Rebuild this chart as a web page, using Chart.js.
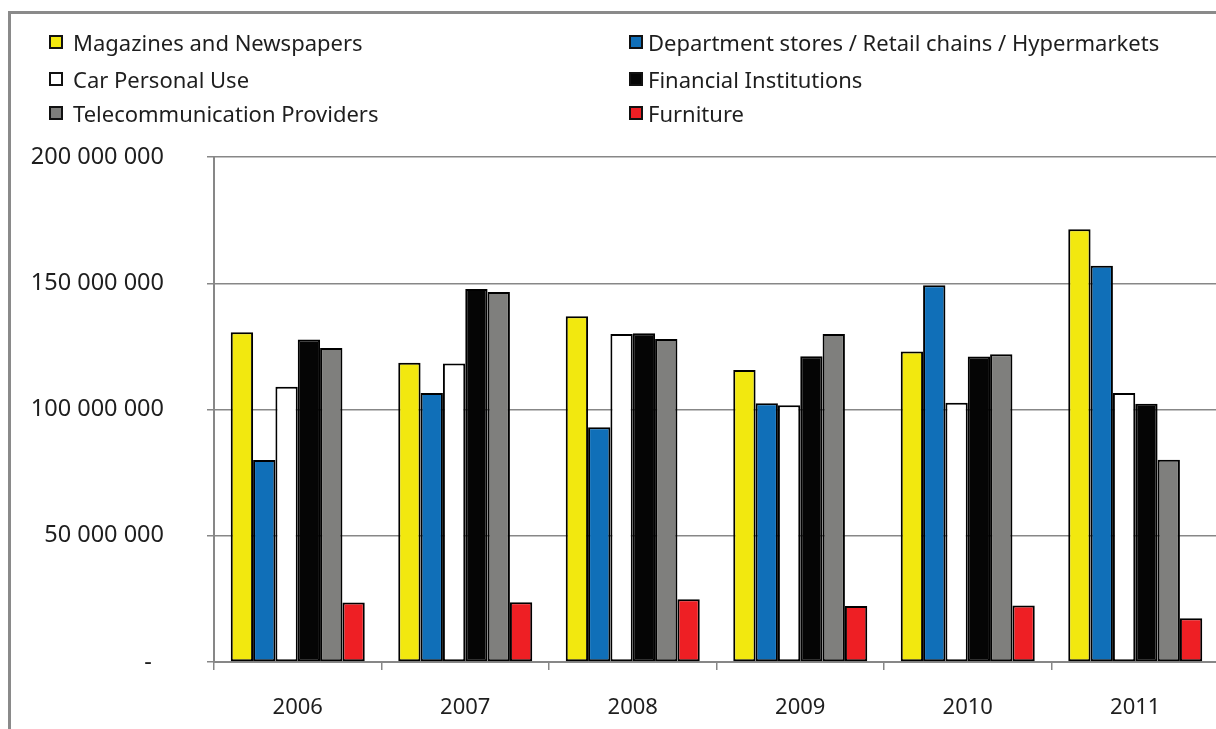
<!DOCTYPE html>
<html>
<head>
<meta charset="utf-8">
<script src="https://cdn.jsdelivr.net/npm/chart.js@4/dist/chart.umd.min.js"></script>
<style>
	html, body { margin: 0; padding: 0; background: #fff; overflow: hidden; width: 1216px; height: 729px; }
	#frame { position: absolute; left: 8px; top: 11px; width: 1300px; height: 800px; border: 3px solid #8a8a8a; }
	#myChart { position: absolute; left: 0; top: 0; }
	.leg { position: absolute; font: 22px "Noto Sans", sans-serif; color: #1e1e1e; white-space: nowrap; line-height: 1; }
	.leg i { position: absolute; left: 0; top: 50%; width: 10px; height: 10px; margin-top: -7px; border: 2px solid #111; }
	.leg span { position: absolute; top: 50%; transform: translateY(-52%); }
</style>
</head>
<body>
<div id="frame"></div>
<canvas id="myChart" width="1230" height="729"></canvas>
<div id="legend"></div>
<script>
const years = ['2006', '2007', '2008', '2009', '2010', '2011'];

const magazines = [130600000, 118500000, 136900000, 115600000, 123000000, 171400000];
const deptStores = [80000000, 106500000, 93000000, 102500000, 149200000, 156900000];
const carUse = [109000000, 118200000, 129900000, 101700000, 102700000, 106500000];
const financial = [127700000, 147700000, 130200000, 121100000, 121000000, 102300000];
const telecom = [124400000, 146500000, 127900000, 129900000, 121900000, 80100000];
const furniture = [23600000, 23700000, 24900000, 22200000, 22400000, 17300000];

const seriesNames = [
	'Magazines and Newspapers',
	'Department stores / Retail chains / Hypermarkets',
	'Car Personal Use',
	'Financial Institutions',
	'Telecommunication Providers',
	'Furniture'
];
const seriesData = [magazines, deptStores, carUse, financial, telecom, furniture];
const COLORS = ['#f2e80f', '#106fb8', '#ffffff', '#050505', '#7f7f7d', '#ee1f24'];

const yTicks = [0, 50000000, 100000000, 150000000, 200000000];

const FONT_X = {family: '"Noto Sans", sans-serif', size: 22};
const FONT_Y = {family: '"Noto Sans", sans-serif', size: 23.5};

// legend: two columns, row-major order
const legend = document.getElementById('legend');
const colX = [49, 629];
const rowY = [42, 78.5, 113];
seriesNames.forEach((name, i) => {
	const d = document.createElement('div');
	d.className = 'leg';
	d.style.left = colX[i % 2] + 'px';
	d.style.top = rowY[Math.floor(i / 2)] + 'px';
	d.innerHTML = '<i style="background:' + COLORS[i] + '"></i><span style="left:' + (i % 2 ? 19 : 24) + 'px">' + name + '</span>';
	legend.appendChild(d);
});

function fmt(v) {
	if (v === 0) return '-  ';
	return String(v).replace(/\B(?=(\d{3})+(?!\d))/g, ' ');
}

const ctx = document.getElementById('myChart');

const data = {
	labels: years,
	datasets: seriesNames.map((name, i) => ({
		label: name,
		data: seriesData[i],
		backgroundColor: COLORS[i],
		borderColor: '#000',
		borderWidth: 2,
		borderSkipped: false,
		categoryPercentage: 0.8,
		barPercentage: 1.0
	}))
};

new Chart(ctx, {
	type: 'bar',
	data,
	options: {
		responsive: false,
		animation: false,
		layout: { padding: { left: 0, top: 157, right: 11, bottom: 0 } },
		plugins: {
			legend: { display: false },
			tooltip: { enabled: false }
		},
		scales: {
			x: {
				offset: true,
				grid: { drawOnChartArea: false, drawTicks: true, tickLength: 8, color: '#878787', lineWidth: 1.5 },
				border: { color: '#878787', width: 2 },
				ticks: { font: FONT_X, color: '#1e1e1e', padding: 25 },
				afterFit(scale) { scale.height = 67; }
			},
			y: {
				min: 0,
				max: 200000000,
				afterBuildTicks(scale) { scale.ticks = yTicks.map(v => ({value: v})); },
				grid: { color: '#878787', lineWidth: 1.5, tickLength: 7 },
				border: { color: '#878787', width: 2 },
				ticks: { font: FONT_Y, color: '#1e1e1e', padding: 43, callback: fmt },
				afterFit(scale) { scale.width = 214; }
			}
		}
	}
});
</script>
</body>
</html>
